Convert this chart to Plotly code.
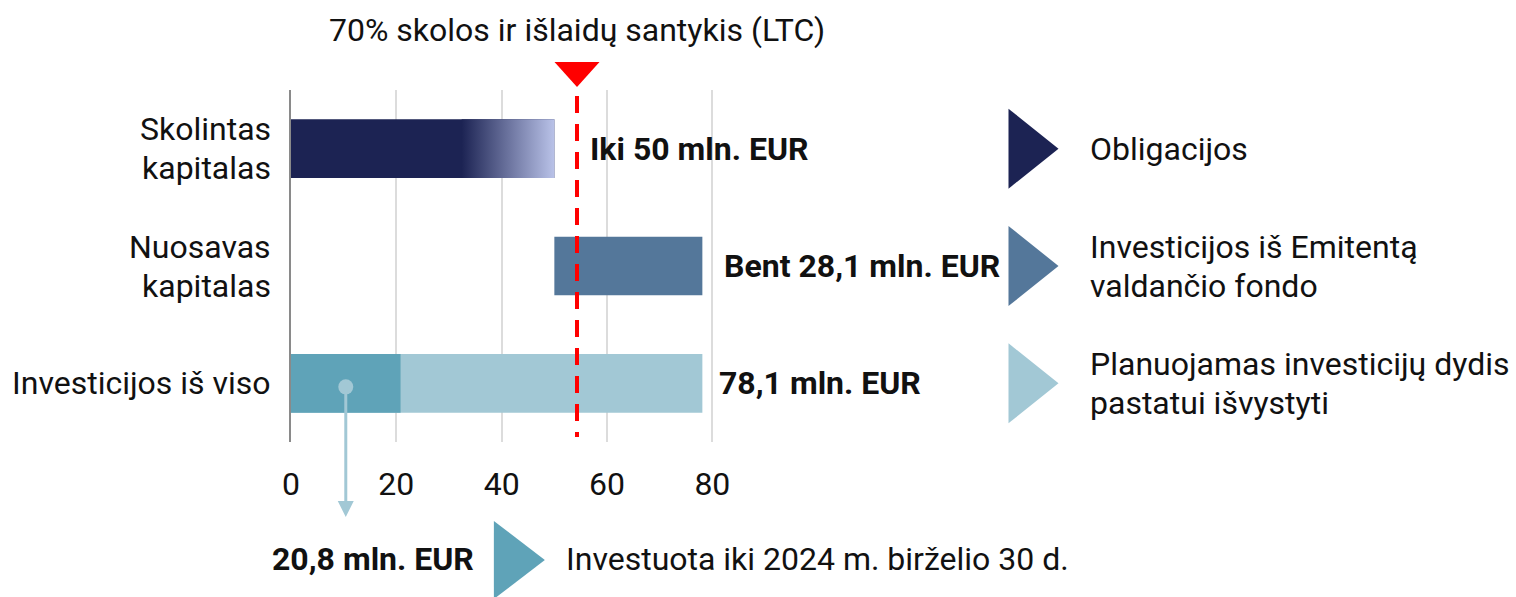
import plotly.graph_objects as go

# ---------------- data ----------------
categories = [["Skolintas", "kapitalas"], ["Nuosavas", "kapitalas"], ["Investicijos iš viso"]]
row_pos = [2, 1, 0]
loan_capital = 50.0          # Skolintas kapitalas (iki 50 mln. EUR)
gradient_start = 32.4        # where the loan bar starts fading
equity_capital = 28.1        # Nuosavas kapitalas (bent 28,1 mln. EUR)
total_investment = 78.1      # Investicijos iš viso
invested_to_date = 20.8      # Investuota iki 2024-06-30
ltc_value = 54.3             # 70% LTC line position
x_ticks = [0, 20, 40, 60, 80]

bar_labels = ["Iki 50 mln. EUR", "Bent 28,1 mln. EUR", "78,1 mln. EUR"]
legend_texts = [["Obligacijos"],
                ["Investicijos iš Emitentą", "valdančio fondo"],
                ["Planuojamas investicijų dydis", "pastatui išvystyti"]]
title_text = "70% skolos ir išlaidų santykis (LTC)"
invested_label = "20,8 mln. EUR"
invested_text = "Investuota iki 2024 m. birželio 30 d."

# ---------------- styles ----------------
C_NAVY = "#1c2353"
C_NAVY_LIGHT = "#b9c2e8"
C_EQUITY = "#54779a"
C_INV_DARK = "#5fa3b8"
C_INV_LIGHT = "#a2c8d5"
C_RED = "#ff0000"
C_TEXT = "#111111"
FONT = "Roboto"
FS = 32
BAR_W = 0.5
LINE_GAP = 19.5  # half distance between two text lines, px

W, H = 1516, 597
L, T = 291, 90
PLOT_R = 715.3
PLOT_B = 442
X_MAX = 80.5
R = W - PLOT_R
B = H - PLOT_B


def px2paper_x(px):
    return (px - L) / (PLOT_R - L)


def px2paper_y(py):
    return (PLOT_B - py) / (PLOT_B - T)


def line_offsets(n):
    if n == 1:
        return [0]
    return [LINE_GAP, -LINE_GAP]


fig = go.Figure()

# loan bar (dark part) + gradient part
fig.add_trace(go.Bar(y=[row_pos[0]], x=[loan_capital], base=[0], orientation="h",
                     width=BAR_W, marker=dict(color=C_NAVY, line=dict(width=0)),
                     showlegend=False, hoverinfo="skip"))
fig.add_trace(go.Scatter(
    x=[gradient_start, loan_capital, loan_capital, gradient_start, gradient_start],
    y=[row_pos[0] - BAR_W / 2, row_pos[0] - BAR_W / 2, row_pos[0] + BAR_W / 2,
       row_pos[0] + BAR_W / 2, row_pos[0] - BAR_W / 2],
    mode="lines", line=dict(width=0), fill="toself",
    fillgradient=dict(type="horizontal", colorscale=[[0, C_NAVY], [1, C_NAVY_LIGHT]],
                      start=gradient_start, stop=loan_capital),
    showlegend=False, hoverinfo="skip"))

# equity bar
fig.add_trace(go.Bar(y=[row_pos[1]], x=[equity_capital], base=[loan_capital], orientation="h",
                     width=BAR_W, marker=dict(color=C_EQUITY, line=dict(width=0)),
                     showlegend=False, hoverinfo="skip"))

# total investment bar + invested part
fig.add_trace(go.Bar(y=[row_pos[2]], x=[total_investment], base=[0], orientation="h",
                     width=BAR_W, marker=dict(color=C_INV_LIGHT, line=dict(width=0)),
                     showlegend=False, hoverinfo="skip"))
fig.add_trace(go.Bar(y=[row_pos[2]], x=[invested_to_date], base=[0], orientation="h",
                     width=BAR_W, marker=dict(color=C_INV_DARK, line=dict(width=0)),
                     showlegend=False, hoverinfo="skip"))

# dot in the middle of invested part
fig.add_trace(go.Scatter(x=[invested_to_date / 2], y=[row_pos[2] - 0.03], mode="markers",
                         marker=dict(size=15, color=C_INV_LIGHT), cliponaxis=False,
                         showlegend=False, hoverinfo="skip"))

shapes = []
# LTC dashed line
shapes.append(dict(type="line", xref="x", yref="paper", x0=ltc_value, x1=ltc_value,
                   y0=px2paper_y(96), y1=px2paper_y(437),
                   line=dict(color=C_RED, width=4, dash="17px,11px"), layer="above"))
# LTC triangle
shapes.append(dict(type="path", xref="x", yref="paper", xsizemode="pixel", ysizemode="pixel",
                   xanchor=ltc_value, yanchor=1.0,
                   path="M -22.5 28 L 22.5 28 L 0 3 Z", fillcolor=C_RED, line=dict(width=0)))
# arrow from dot downwards
shapes.append(dict(type="line", xref="x", yref="paper",
                   x0=invested_to_date / 2, x1=invested_to_date / 2,
                   y0=px2paper_y(387), y1=px2paper_y(505),
                   line=dict(color=C_INV_LIGHT, width=3), layer="above"))
shapes.append(dict(type="path", xref="x", yref="paper", xsizemode="pixel", ysizemode="pixel",
                   xanchor=invested_to_date / 2, yanchor=px2paper_y(517),
                   path="M -8 16 L 8 16 L 0 0 Z", fillcolor=C_INV_LIGHT, line=dict(width=0)))

# legend triangles on the right
legend_colors = [C_NAVY, C_EQUITY, C_INV_LIGHT]
for yv, col in zip(row_pos, legend_colors):
    shapes.append(dict(type="path", xref="paper", yref="y", xsizemode="pixel", ysizemode="pixel",
                       xanchor=px2paper_x(1009), yanchor=yv,
                       path="M 0 40 L 50 0 L 0 -40 Z", fillcolor=col, line=dict(width=0)))
# bottom triangle
shapes.append(dict(type="path", xref="paper", yref="paper", xsizemode="pixel", ysizemode="pixel",
                   xanchor=px2paper_x(494), yanchor=px2paper_y(560),
                   path="M 0 39 L 51 0 L 0 -39 Z", fillcolor=C_INV_DARK, line=dict(width=0)))

annotations = []
font = dict(family=FONT, size=FS, color=C_TEXT)
# title above LTC line
annotations.append(dict(text=title_text, xref="x", yref="paper", x=ltc_value,
                        y=px2paper_y(30), xanchor="center", yanchor="middle",
                        showarrow=False, font=font))
# category labels (left)
for yv, lines in zip(row_pos, categories):
    for txt, off in zip(lines, line_offsets(len(lines))):
        annotations.append(dict(text=txt, xref="paper", yref="y", x=0, y=yv,
                                xanchor="right", yanchor="middle", xshift=-18, yshift=off,
                                showarrow=False, font=font))
# bar labels
label_anchor = [loan_capital, loan_capital + equity_capital, total_investment]
label_shift = [34, 20, 15]
for yv, txt, xa, sh in zip(row_pos, bar_labels, label_anchor, label_shift):
    annotations.append(dict(text="<b>" + txt + "</b>", xref="x", yref="y", x=xa, y=yv,
                            xanchor="left", yanchor="middle", xshift=sh, showarrow=False,
                            font=font))
# legend texts
for yv, lines in zip(row_pos, legend_texts):
    for txt, off in zip(lines, line_offsets(len(lines))):
        annotations.append(dict(text=txt, xref="paper", yref="y", x=px2paper_x(1089), y=yv,
                                xanchor="left", yanchor="middle", yshift=off,
                                showarrow=False, font=font))
# bottom row
annotations.append(dict(text="<b>" + invested_label + "</b>", xref="paper", yref="paper",
                        x=px2paper_x(476), y=px2paper_y(559), xanchor="right", yanchor="middle",
                        showarrow=False, font=font))
annotations.append(dict(text=invested_text, xref="paper", yref="paper",
                        x=px2paper_x(564), y=px2paper_y(559), xanchor="left", yanchor="middle",
                        showarrow=False, font=font))

fig.update_layout(
    width=W, height=H,
    margin=dict(l=L, r=R, t=T, b=B, pad=0),
    paper_bgcolor="white", plot_bgcolor="white",
    barmode="overlay",
    showlegend=False,
    shapes=shapes,
    annotations=annotations,
    font=font,
    xaxis=dict(range=[0, X_MAX], tickvals=x_ticks, ticktext=[str(v) for v in x_ticks],
               showgrid=True, gridcolor="#dcdcdc", gridwidth=2, zeroline=False,
               showline=False, ticks="", ticklabelstandoff=20,
               tickfont=font, fixedrange=True),
    yaxis=dict(range=[-0.5, 2.5], tickvals=row_pos, showticklabels=False,
               showgrid=False, zeroline=False, showline=True, linecolor="#8a8a8a",
               linewidth=2, ticks="", fixedrange=True),
)

fig.write_html("out.html")
